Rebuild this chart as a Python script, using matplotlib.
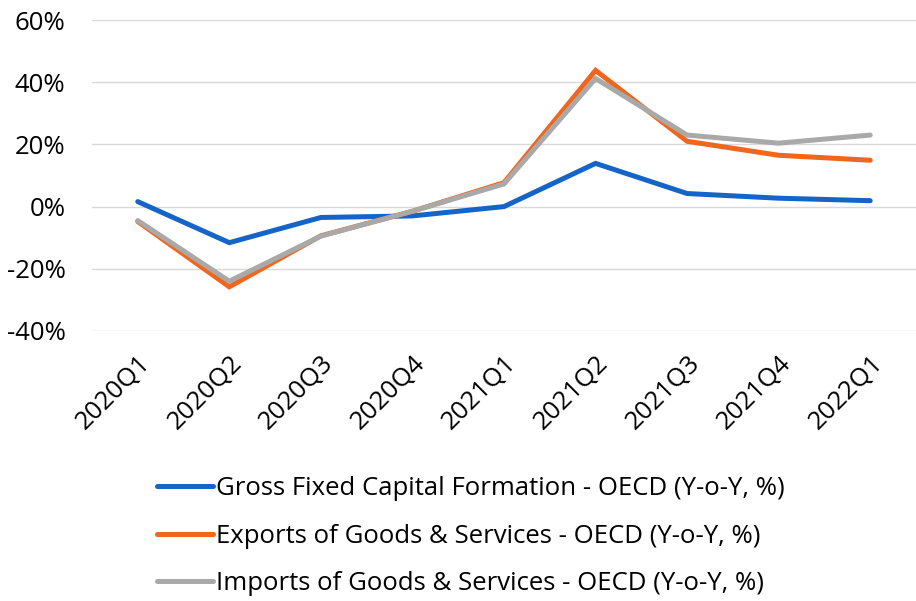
import matplotlib.pyplot as plt
from matplotlib.ticker import FuncFormatter

plt.rcParams['font.family'] = ['Open Sans', 'DejaVu Sans']

quarters = ['2020Q1', '2020Q2', '2020Q3', '2020Q4', '2021Q1',
            '2021Q2', '2021Q3', '2021Q4', '2022Q1']
gfcf = [1.6, -11.6, -3.5, -3.0, 0.0, 13.9, 4.2, 2.7, 1.9]
exports = [-4.8, -25.8, -9.4, -1.5, 7.7, 43.8, 21.0, 16.5, 14.9]
imports = [-4.5, -24.0, -9.5, -1.5, 7.3, 41.2, 23.0, 20.4, 23.0]

labels = ['Gross Fixed Capital Formation - OECD (Y-o-Y, %)',
          'Exports of Goods & Services - OECD (Y-o-Y, %)',
          'Imports of Goods & Services - OECD (Y-o-Y, %)']
colors = ['#1565C8', '#F0661C', '#A9A9A9']

fig = plt.figure(figsize=(9.16, 6.01), dpi=100)
ax = fig.add_axes([0.1004, 0.4493, 0.8996, 0.5174])

x = range(len(quarters))
for series, lab, col in zip([gfcf, exports, imports], labels, colors):
    ax.plot(x, series, color=col, lw=3.6, label=lab,
            solid_capstyle='round', solid_joinstyle='miter')

ax.set_xlim(-0.5, len(quarters) - 0.5)
ax.set_ylim(-40, 60)
ax.set_yticks([-40, -20, 0, 20, 40, 60])
ax.yaxis.set_major_formatter(FuncFormatter(lambda v, p: f'{v:.0f}%'))
ax.set_xticks(list(x))
ax.set_xticklabels(quarters, rotation=45, ha='right', rotation_mode='anchor')
ax.tick_params(axis='y', labelsize=18.5, length=0, pad=19)
ax.tick_params(axis='x', labelsize=18.5, length=0, pad=14)
ax.grid(axis='y', color='#D9D9D9', lw=1)
ax.set_axisbelow(True)
for s in ax.spines.values():
    s.set_visible(False)

fig.legend(loc='upper left', bbox_to_anchor=(0.171, 0.208), frameon=False,
           fontsize=18.5, handlelength=2.2, handletextpad=0.1,
           labelspacing=0.88, borderaxespad=0, borderpad=0)

fig.savefig('out.png', dpi=100)
